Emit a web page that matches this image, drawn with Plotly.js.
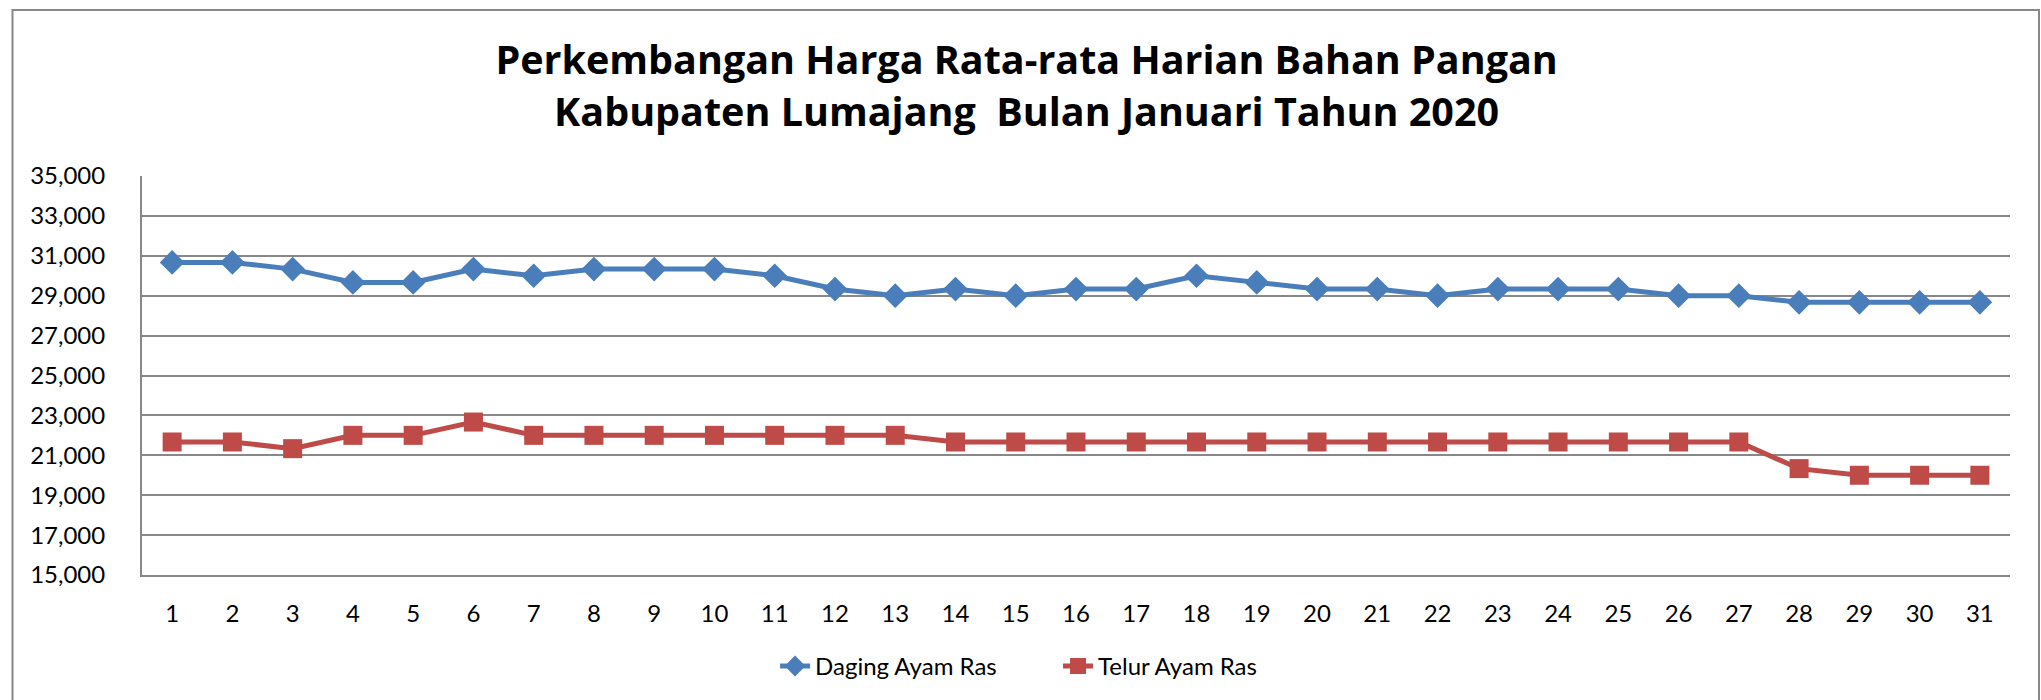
<!DOCTYPE html>
<html>
<head>
<meta charset="utf-8">
<script src="https://cdn.plot.ly/plotly-3.0.1.min.js"></script>
<style>html,body{margin:0;padding:0;background:#fff;}#chart{width:2041px;height:700px;}</style>
</head>
<body>
<div id="chart"></div>
<script>
const days = [1,2,3,4,5,6,7,8,9,10,11,12,13,14,15,16,17,18,19,20,21,22,23,24,25,26,27,28,29,30,31];
const dagingAyamRas = [30667,30667,30333,29667,29667,30333,30000,30333,30333,30333,30000,29333,29000,29333,29000,29333,29333,30000,29667,29333,29333,29000,29333,29333,29333,29000,29000,28667,28667,28667,28667];
const telurAyamRas = [21667,21667,21333,22000,22000,22667,22000,22000,22000,22000,22000,22000,22000,21667,21667,21667,21667,21667,21667,21667,21667,21667,21667,21667,21667,21667,21667,20333,20000,20000,20000];
const seriesNames = ["Daging Ayam Ras", "Telur Ayam Ras"];
const titleText = "Perkembangan Harga Rata-rata Harian Bahan Pangan<br>Kabupaten Lumajang  Bulan Januari Tahun 2020";

const FONT = "Lato, 'Open Sans', sans-serif";
const TITLE_FONT = "'Open Sans', Lato, sans-serif";

const traces = [
  {
    x: days, y: dagingAyamRas, name: seriesNames[0], type: "scatter", mode: "lines+markers",
    line: {color: "#4A7EBB", width: 5},
    marker: {symbol: "diamond", size: 19, color: "#4A7EBB"}
  },
  {
    x: days, y: telurAyamRas, name: seriesNames[1], type: "scatter", mode: "lines+markers",
    line: {color: "#BE4B48", width: 5},
    marker: {symbol: "square", size: 19, color: "#BE4B48"}
  }
];

const layout = {
  width: 2041, height: 700,
  margin: {l: 142, r: 31, t: 176, b: 125},
  paper_bgcolor: "#ffffff", plot_bgcolor: "#ffffff",
  font: {family: FONT, color: "#000"},
  title: {
    text: titleText,
    font: {family: TITLE_FONT, size: 39.5, weight: "bold", color: "#000"},
    xref: "container", x: 0.503, xanchor: "center",
    yref: "container", y: 0.894, yanchor: "top"
  },
  xaxis: {
    range: [0.5, 31.5], tickmode: "array", tickvals: days, ticktext: days.map(String),
    showgrid: false, zeroline: false, showline: true, linecolor: "#888888", linewidth: 2,
    ticks: "", tickfont: {family: FONT, size: 24, color: "#000"}, ticklabelstandoff: 16,
    fixedrange: true
  },
  yaxis: {
    range: [15000, 35000], dtick: 2000, tick0: 15000, tickformat: ",d",
    showgrid: true, gridcolor: "#888888", gridwidth: 2,
    zeroline: false, showline: true, linecolor: "#888888", linewidth: 2,
    ticks: "", tickfont: {family: FONT, size: 24, color: "#000"}, ticklabelstandoff: 30,
    fixedrange: true
  },
  showlegend: true,
  legend: {
    orientation: "h", xref: "container", x: 0.5184, xanchor: "center",
    yref: "container", y: 0.048, yanchor: "middle",
    font: {family: FONT, size: 24, color: "#000"}, itemwidth: 30,
    entrywidth: 238, entrywidthmode: "pixels",
    bgcolor: "rgba(0,0,0,0)"
  },
  shapes: [
    {type: "rect", xref: "paper", yref: "paper",
     x0: (12.5 - 142) / 1868, x1: (2039 - 142) / 1868,
     y0: (575 - 710) / 399, y1: (575 - 10) / 399,
     line: {color: "#888888", width: 2}, fillcolor: "rgba(0,0,0,0)", layer: "below"}
  ]
};

Plotly.newPlot("chart", traces, layout, {displayModeBar: false, staticPlot: true});
</script>
</body>
</html>
